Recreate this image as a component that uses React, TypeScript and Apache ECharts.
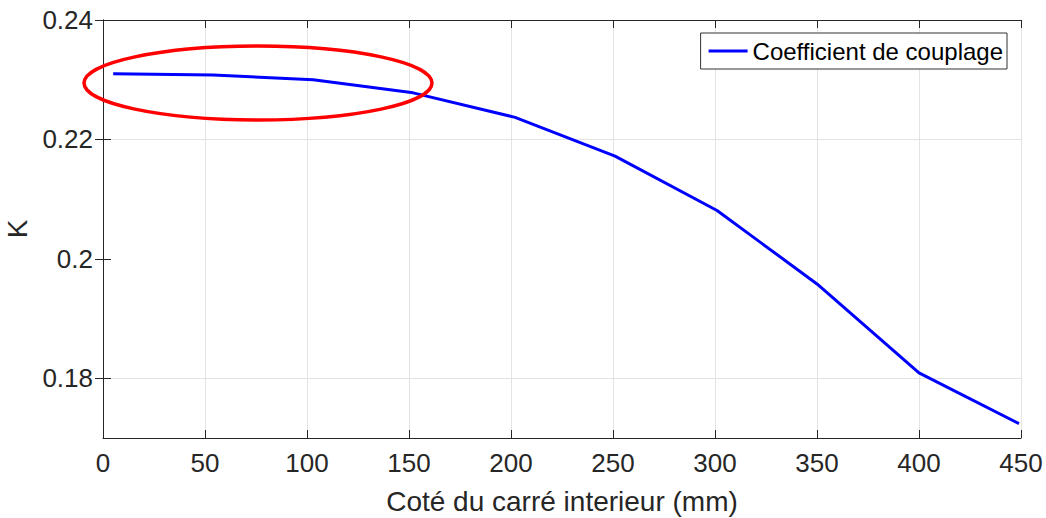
import React, { useEffect, useRef } from "react";
import * as echarts from "echarts";

const xValues = [5, 54, 103, 152, 202, 251, 301, 350, 400, 449];
const kValues = [0.231, 0.2308, 0.23, 0.2278, 0.2237, 0.2172, 0.2081, 0.1958, 0.1809, 0.1724];
const yTicks = [0.18, 0.2, 0.22, 0.24];
const seriesName = "Coefficient de couplage";
const xTitle = "Coté du carré interieur (mm)";
const yTitle = "K";

export default function App() {
  const ref = useRef<HTMLDivElement>(null);
  useEffect(() => {
    if (!ref.current) return;
    const chart = echarts.init(ref.current, undefined, { renderer: "svg" });
    const axisColor = "#262626";
    const font = "Liberation Sans, Arial, sans-serif";
    const axisLine = { show: true, lineStyle: { color: axisColor, width: 1 } };
    const tick = { show: true, inside: true, length: 8, lineStyle: { color: axisColor } };
    chart.setOption({
      animation: false,
      backgroundColor: "#ffffff",
      grid: {
        left: 103,
        right: 25,
        top: 20,
        bottom: 80,
        containLabel: false,
        outerBoundsMode: "none",
      },
      legend: {
        show: true,
        right: 39,
        top: 33,
        orient: "vertical",
        backgroundColor: "#ffffff",
        borderColor: "#333333",
        borderWidth: 1,
        borderRadius: 0,
        padding: [6, 4, 6, 8],
        itemWidth: 39,
        itemHeight: 3,
        itemGap: 4,
        icon: "rect",
        textStyle: { fontFamily: font, fontSize: 24, color: "#000000" },
        data: [{ name: seriesName, icon: "rect" }],
      },
      xAxis: [
        {
          type: "value",
          min: 0,
          max: 450,
          interval: 50,
          name: xTitle,
          nameLocation: "middle",
          nameGap: 49,
          nameTextStyle: { fontFamily: font, fontSize: 28, color: axisColor },
          axisLine,
          axisTick: tick,
          axisLabel: { fontFamily: font, fontSize: 26, color: axisColor, margin: 12 },
          splitLine: { show: true, lineStyle: { color: "#e3e3e3", width: 1 } },
        },
        {
          type: "value",
          position: "top",
          min: 0,
          max: 450,
          interval: 50,
          axisLine,
          axisTick: tick,
          axisLabel: { show: false },
          splitLine: { show: false },
        },
      ],
      yAxis: [
        {
          type: "value",
          min: 0.17,
          max: 0.24,
          interval: 0.01,
          name: yTitle,
          nameLocation: "middle",
          nameGap: 72,
          nameRotate: 90,
          nameTextStyle: { fontFamily: font, fontSize: 28, color: axisColor },
          axisLine,
          axisTick: { ...tick, customValues: yTicks },
          axisLabel: {
            fontFamily: font,
            fontSize: 26,
            color: axisColor,
            margin: 10,
            customValues: yTicks,
            formatter: (v: number) => String(Math.round(v * 100) / 100),
          },
          splitLine: {
            show: true,
            lineStyle: { color: ["#e3e3e3", "transparent"], width: 1 },
          },
        },
        {
          type: "value",
          position: "right",
          min: 0.17,
          max: 0.24,
          interval: 0.01,
          axisLine,
          axisTick: { ...tick, customValues: yTicks },
          axisLabel: { show: false },
          splitLine: { show: false },
        },
      ],
      series: [
        {
          name: seriesName,
          type: "line",
          data: xValues.map((x, i) => [x, kValues[i]]),
          showSymbol: false,
          symbol: "none",
          lineStyle: { color: "#0000ff", width: 3 },
          itemStyle: { color: "#0000ff" },
        },
      ],
      graphic: [
        {
          type: "ellipse",
          shape: { cx: 258, cy: 83, rx: 174, ry: 37 },
          style: { fill: "none", stroke: "#ff0000", lineWidth: 3.5 },
          z: 100,
        },
      ],
    });
    return () => chart.dispose();
  }, []);
  return (
    <div
      ref={ref}
      style={{ position: "fixed", left: 0, top: 0, width: 1046, height: 518, background: "#fff" }}
    />
  );
}
